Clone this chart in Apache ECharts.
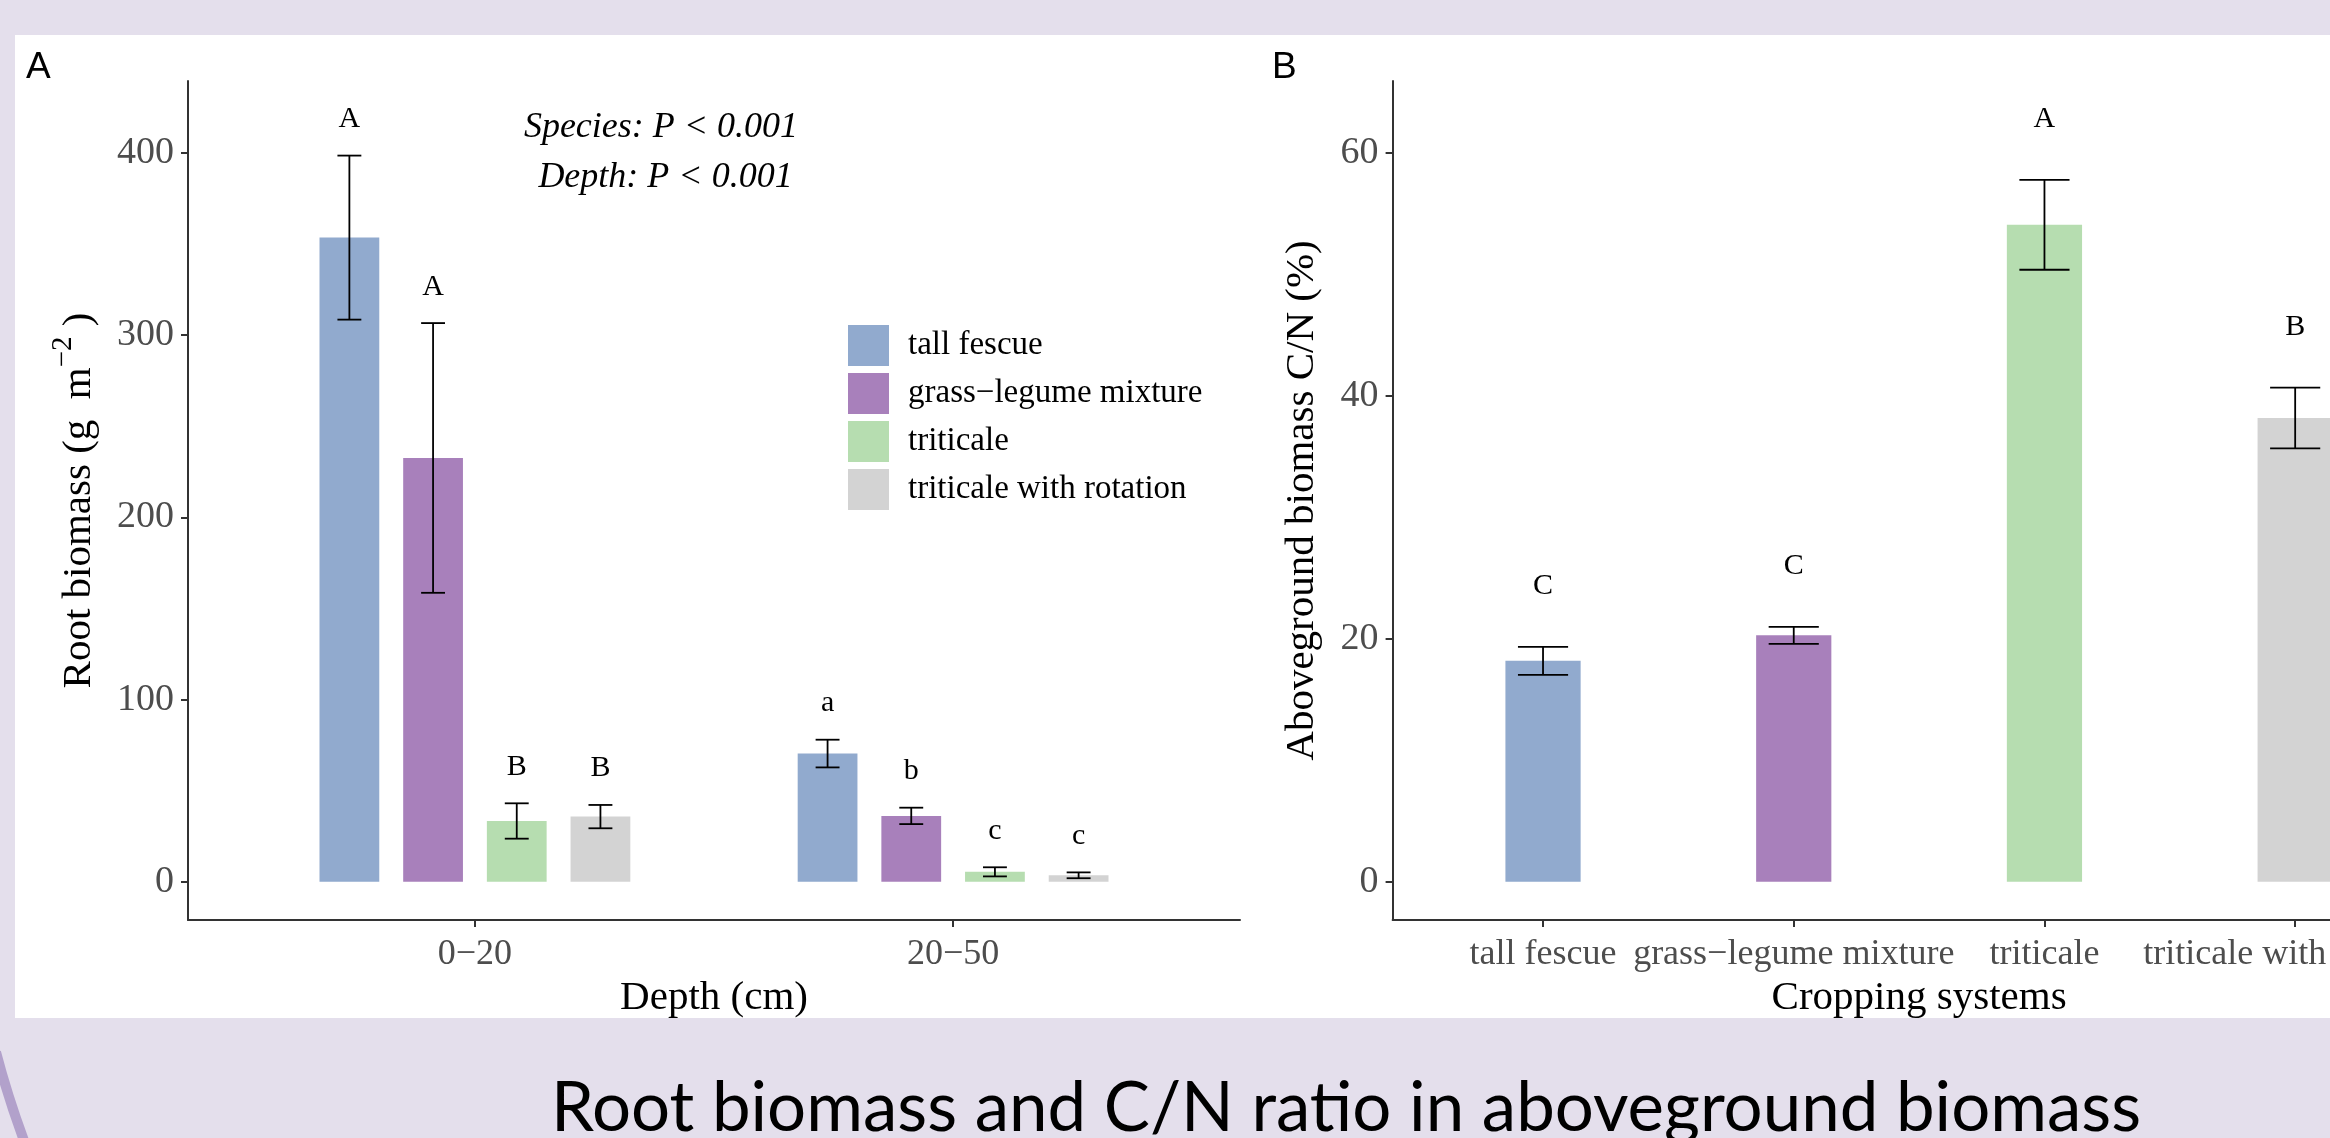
<!DOCTYPE html>
<html>
<head>
<meta charset="utf-8">
<script src="https://cdn.jsdelivr.net/npm/echarts@6/dist/echarts.min.js"></script>
<style>
html,body{margin:0;padding:0;background:#e4dfec;}
#c{width:2330px;height:1138px;}
</style>
</head>
<body>
<div id="c"></div>
<script>
// ---------------- data ----------------
const depthCategories = ['0−20', '20−50'];
const systems = ['tall fescue', 'grass−legume mixture', 'triticale', 'triticale with rotation'];
const systemColors = ['#91aace', '#a880bb', '#b6ddb0', '#d3d3d3'];

// Panel A: root biomass (g m-2), values for [0−20, 20−50]
const rootTallFescue = [353.5, 70.4];
const rootGrassLegume = [232.6, 36.2];
const rootTriticale = [33.4, 5.5];
const rootTriticaleRotation = [35.8, 3.6];
const rootSeTallFescue = [45, 7.6];
const rootSeGrassLegume = [74, 4.5];
const rootSeTriticale = [9.7, 2.5];
const rootSeTriticaleRotation = [6.4, 1.6];
const rootLettersTallFescue = ['A', 'a'];
const rootLettersGrassLegume = ['A', 'b'];
const rootLettersTriticale = ['B', 'c'];
const rootLettersTriticaleRotation = ['B', 'c'];
const rootTicks = [0, 100, 200, 300, 400];

// Panel B: aboveground biomass C/N (%), one value per cropping system
const cnMeans = [18.2, 20.3, 54.1, 38.2];
const cnSe = [1.15, 0.7, 3.7, 2.5];
const cnLetters = ['C', 'C', 'A', 'B'];
const cnTicks = [0, 20, 40, 60];

// ---------------- style constants ----------------
const SERIF = 'Liberation Serif';
const AXIS_COLOR = '#333333';
const TICK_TEXT = '#4d4d4d';
const LETTER_OFFSET_A = 20;   // letters placed this many data units above error bar
const LETTER_OFFSET_B = 5;
const DODGE_A = 0.7;
const ERR_W = 0.2;

const rootMeans = [rootTallFescue, rootGrassLegume, rootTriticale, rootTriticaleRotation];
const rootSes = [rootSeTallFescue, rootSeGrassLegume, rootSeTriticale, rootSeTriticaleRotation];
const rootLetters = [rootLettersTallFescue, rootLettersGrassLegume, rootLettersTriticale, rootLettersTriticaleRotation];

// ggplot-like 5% expansion of the y range (data incl. letters)
let topA = 0;
rootMeans.forEach((arr, k) => arr.forEach((v, j) => { topA = Math.max(topA, v + rootSes[k][j] + LETTER_OFFSET_A); }));
let topB = 0;
cnMeans.forEach((v, i) => { topB = Math.max(topB, v + cnSe[i] + LETTER_OFFSET_B); });

function makeErrRender(k, n, dodge, letters, letterOffset) {
  return function (params, api) {
    const x = api.value(0), lo = api.value(1), hi = api.value(2);
    const band = api.size([1, 0])[0];
    const off = (k - (n - 1) / 2) * dodge / n * band;
    const capHalf = ERR_W / n / 2 * band;
    const pTop = api.coord([x, hi]);
    const pBot = api.coord([x, lo]);
    const pLab = api.coord([x, hi + letterOffset]);
    const cx = pTop[0] + off;
    const ls = { stroke: '#000', lineWidth: 1.8 };
    return {
      type: 'group',
      children: [
        { type: 'line', shape: { x1: cx, y1: pTop[1], x2: cx, y2: pBot[1] }, style: ls },
        { type: 'line', shape: { x1: cx - capHalf, y1: pTop[1], x2: cx + capHalf, y2: pTop[1] }, style: ls },
        { type: 'line', shape: { x1: cx - capHalf, y1: pBot[1], x2: cx + capHalf, y2: pBot[1] }, style: ls },
        { type: 'text', style: { text: letters[params.dataIndex], x: cx, y: pLab[1], align: 'center', verticalAlign: 'middle',
            font: '30px "' + SERIF + '"', fill: '#000' } }
      ]
    };
  };
}

const series = [];
systems.forEach((name, k) => {
  series.push({
    type: 'bar', name: name, xAxisIndex: 0, yAxisIndex: 0,
    data: rootMeans[k].map((v, j) => [j + 1, v]),
    barWidth: '12.5%', barGap: '40%',
    itemStyle: { color: systemColors[k] },
    emphasis: { disabled: true }, z: 2
  });
});
systems.forEach((name, k) => {
  series.push({
    type: 'custom', name: name + ' err', xAxisIndex: 0, yAxisIndex: 0,
    data: rootMeans[k].map((v, j) => [j + 1, v - rootSes[k][j], v + rootSes[k][j]]),
    encode: { x: 0, y: [1, 2] },
    renderItem: makeErrRender(k, systems.length, DODGE_A, rootLetters[k], LETTER_OFFSET_A),
    z: 5, silent: true
  });
});
series.push({
  type: 'bar', name: 'C/N', xAxisIndex: 1, yAxisIndex: 1,
  data: cnMeans.map((v, i) => ({ value: [i + 1, v], itemStyle: { color: systemColors[i] } })),
  barWidth: '30%', emphasis: { disabled: true }, z: 2
});
series.push({
  type: 'custom', name: 'C/N err', xAxisIndex: 1, yAxisIndex: 1,
  data: cnMeans.map((v, i) => [i + 1, v - cnSe[i], v + cnSe[i]]),
  encode: { x: 0, y: [1, 2] },
  renderItem: makeErrRender(0, 1, 1, cnLetters, LETTER_OFFSET_B),
  z: 5, silent: true
});

const axisLine = { show: true, onZero: false, lineStyle: { color: AXIS_COLOR, width: 2 } };
const axisTick = { show: true, length: 7, lineStyle: { color: AXIS_COLOR, width: 2 } };

const chart = echarts.init(document.getElementById('c'), null, { renderer: 'canvas' });
chart.setOption({
  backgroundColor: '#e4dfec',
  animation: false,
  graphic: [
    { type: 'rect', z: -10, shape: { x: 15, y: 35, width: 2400, height: 983 }, style: { fill: '#ffffff' } },
    { type: 'bezierCurve', z: -10, shape: { x1: -4, y1: 1052, cpx1: 8, cpy1: 1098, x2: 26, y2: 1146 },
      style: { stroke: '#b2a1cb', lineWidth: 10, fill: null } },
    { type: 'text', z: 10, style: { text: 'A', x: 26, y: 68, verticalAlign: 'middle', font: '37px "Liberation Sans"', fill: '#000' } },
    { type: 'text', z: 10, style: { text: 'B', x: 1272, y: 68, verticalAlign: 'middle', font: '37px "Liberation Sans"', fill: '#000' } },
    { type: 'text', z: 10, style: { text: 'Species: P < 0.001', x: 661, y: 128, align: 'center', verticalAlign: 'middle',
        font: 'italic 36px "' + SERIF + '"', fill: '#000' } },
    { type: 'text', z: 10, style: { text: ' Depth: P < 0.001', x: 661, y: 178, align: 'center', verticalAlign: 'middle',
        font: 'italic 36px "' + SERIF + '"', fill: '#000' } },
    { type: 'text', z: 10, style: { text: 'Root biomass and C/N ratio in aboveground biomass', x: 1346, y: 1109,
        align: 'center', verticalAlign: 'middle', font: '69px "Lato"', fill: '#000' } }
  ],
  legend: {
    data: systems, orient: 'vertical', left: 848, top: 325, padding: 0,
    itemWidth: 41, itemHeight: 41, itemGap: 7, icon: 'rect', selectedMode: false,
    textStyle: { fontFamily: SERIF, fontSize: 33, color: '#000', padding: [0, 0, 0, 14] }
  },
  grid: [
    { left: 188, top: 81, width: 1052, height: 839, outerBoundsMode: 'none', containLabel: false },
    { left: 1392.6, top: 81, width: 1053, height: 839, outerBoundsMode: 'none', containLabel: false }
  ],
  xAxis: [
    {
      type: 'value', gridIndex: 0, min: 0.4, max: 2.6,
      axisLine: axisLine, axisTick: Object.assign({ customValues: [1, 2] }, axisTick),
      splitLine: { show: false },
      axisLabel: { customValues: [1, 2], formatter: v => depthCategories[Math.round(v) - 1], color: TICK_TEXT,
        fontFamily: SERIF, fontSize: 36, margin: 17, hideOverlap: false },
      name: 'Depth (cm)', nameLocation: 'middle', nameGap: 50,
      nameTextStyle: { fontFamily: SERIF, fontSize: 41, color: '#000' }
    },
    {
      type: 'value', gridIndex: 1, min: 0.4, max: 4.6,
      axisLine: axisLine, axisTick: Object.assign({ customValues: [1, 2, 3, 4] }, axisTick),
      splitLine: { show: false },
      axisLabel: { customValues: [1, 2, 3, 4], formatter: v => systems[Math.round(v) - 1], color: TICK_TEXT,
        fontFamily: SERIF, fontSize: 36, margin: 17, hideOverlap: false },
      name: 'Cropping systems', nameLocation: 'middle', nameGap: 50,
      nameTextStyle: { fontFamily: SERIF, fontSize: 41, color: '#000' }
    }
  ],
  yAxis: [
    {
      type: 'value', gridIndex: 0, min: -0.05 * topA, max: 1.05 * topA,
      axisLine: axisLine, axisTick: Object.assign({ customValues: rootTicks }, axisTick),
      splitLine: { show: false },
      axisLabel: { customValues: rootTicks, color: TICK_TEXT, fontFamily: SERIF, fontSize: 38, margin: 14 },
      name: '{t|Root biomass (g  m}{s|−2}{t| )}', nameLocation: 'middle', nameGap: 88,
      nameTextStyle: {
        fontFamily: SERIF, fontSize: 41, color: '#000',
        rich: {
          t: { fontFamily: SERIF, fontSize: 41, color: '#000', verticalAlign: 'bottom' },
          s: { fontFamily: SERIF, fontSize: 29, color: '#000', verticalAlign: 'bottom', padding: [0, 0, 22, 0] }
        }
      }
    },
    {
      type: 'value', gridIndex: 1, min: -0.05 * topB, max: 1.05 * topB,
      axisLine: axisLine, axisTick: Object.assign({ customValues: cnTicks }, axisTick),
      splitLine: { show: false },
      axisLabel: { customValues: cnTicks, color: TICK_TEXT, fontFamily: SERIF, fontSize: 38, margin: 14 },
      name: 'Aboveground biomass C/N (%)', nameLocation: 'middle', nameGap: 70,
      nameTextStyle: { fontFamily: SERIF, fontSize: 41, color: '#000' }
    }
  ],
  series: series
});
</script>
</body>
</html>
